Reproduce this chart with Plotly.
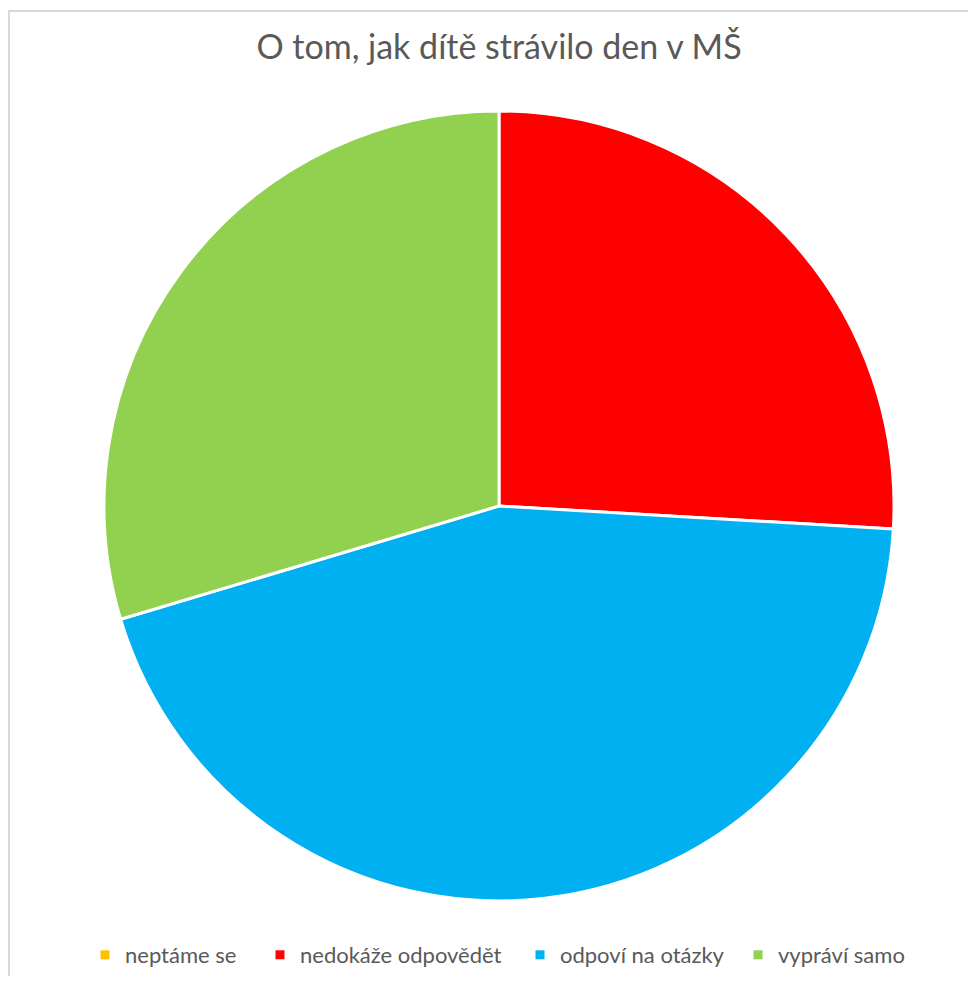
import plotly.graph_objects as go

labels = ["neptáme se", "nedokáže odpovědět", "odpoví na otázky", "vypráví samo"]
values = [0, 7, 12, 8]
colors = ["#FFC000", "#FF0000", "#00B0F0", "#92D050"]
title_text = "O tom, jak dítě strávilo den v MŠ"

# figure is offset by the page's 8px body margin; keep it inside the window
W, H = 960, 968
cx, cy, R = 491, 498, 395
legend_marker_px = [100, 275, 535, 753]   # horizontal positions of the legend entries
legend_y_px = 947

fig = go.Figure()
fig.add_trace(go.Pie(
    labels=labels,
    values=values,
    sort=False,
    direction="clockwise",
    rotation=0,
    textinfo="none",
    hoverinfo="label+value+percent",
    marker=dict(colors=colors, line=dict(color="white", width=3)),
    domain=dict(x=[(cx - R) / W, (cx + R) / W],
                y=[1 - (cy + R) / H, 1 - (cy - R) / H]),
    showlegend=False,
))

legend_layouts = {}
for i, (lab, col) in enumerate(zip(labels, colors)):
    lname = "legend" if i == 0 else f"legend{i + 1}"
    fig.add_trace(go.Scatter(
        x=[None], y=[None], mode="markers", name=lab,
        marker=dict(symbol="square", size=9, color=col),
        legend=lname, showlegend=True, hoverinfo="skip",
    ))
    legend_layouts[lname] = dict(
        x=(legend_marker_px[i] - 23) / W, xanchor="left",
        y=1 - legend_y_px / H, yanchor="middle",
        font=dict(family="Lato", size=22, color="#595959"),
        bgcolor="rgba(0,0,0,0)", borderwidth=0,
    )

frame_line = dict(color="#D9D9D9", width=2)
fig.update_layout(
    width=W, height=H,
    margin=dict(l=0, r=0, t=0, b=0),
    paper_bgcolor="white",
    plot_bgcolor="white",
    xaxis=dict(visible=False),
    yaxis=dict(visible=False),
    title=dict(text=title_text, x=491 / W, xanchor="center", y=1 - 39 / H, yanchor="middle",
               font=dict(family="Lato", size=34, color="#595959")),
    shapes=[
        dict(type="line", xref="paper", yref="paper", x0=1 / W, x1=1 / W, y0=0, y1=1 - 2 / H,
             line=frame_line, layer="below"),
        dict(type="line", xref="paper", yref="paper", x0=0, x1=1, y0=1 - 3 / H, y1=1 - 3 / H,
             line=frame_line, layer="below"),
    ],
    **legend_layouts,
)

fig.write_html("out.html")
